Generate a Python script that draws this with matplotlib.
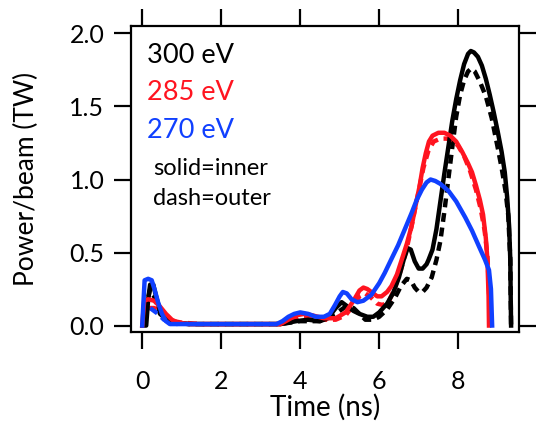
import matplotlib
matplotlib.use("Agg")
import matplotlib.pyplot as plt

plt.rcParams["font.family"] = ["Lato", "DejaVu Sans"]

# time (ns) and power per beam (TW)
t_300_in = [0.0, 0.1, 0.15, 0.2, 0.28, 0.35, 0.45, 0.6, 0.8, 1.2, 3.5, 3.9, 4.2, 4.5, 4.7, 4.9, 5.05, 5.2, 5.35,
            5.5, 5.7, 5.85, 6.0, 6.1, 6.2, 6.35, 6.5, 6.62, 6.72, 6.8, 6.9, 7.0, 7.1, 7.2, 7.25, 7.35, 7.45, 7.55,
            7.65, 7.75, 7.85, 7.95, 8.05, 8.15, 8.25, 8.32, 8.4, 8.5, 8.6, 8.7, 8.8, 8.9, 9.0, 9.1, 9.18, 9.24,
            9.29, 9.32, 9.33, 9.34]
p_300_in = [0.0, 0.0, 0.18, 0.28, 0.28, 0.2, 0.1, 0.04, 0.02, 0.01, 0.01, 0.03, 0.04, 0.03, 0.05, 0.12, 0.16, 0.13, 0.1,
            0.08, 0.06, 0.06, 0.09, 0.12, 0.15, 0.22, 0.33, 0.45, 0.53, 0.52, 0.44, 0.39, 0.39, 0.42, 0.45, 0.52, 0.66, 0.85,
            1.04, 1.22, 1.4, 1.55, 1.68, 1.79, 1.86, 1.88, 1.87, 1.84, 1.78, 1.69, 1.58, 1.46, 1.33, 1.19, 1.05, 0.88,
            0.68, 0.45, 0.2, 0.0]

t_300_out = [0.05, 0.12, 0.2, 0.3, 0.45, 0.7, 1.2, 3.5, 4.0, 4.5, 4.9, 5.15, 5.35, 5.5, 5.65, 5.85, 6.0, 6.2, 6.4,
             6.55, 6.7, 6.8, 6.9, 7.0, 7.1, 7.2, 7.33, 7.45, 7.55, 7.65, 7.75, 7.85, 7.95, 8.05, 8.15, 8.25, 8.33,
             8.42, 8.55, 8.7, 8.85, 9.0, 9.1, 9.2, 9.27, 9.32, 9.33, 9.34]
p_300_out = [0.0, 0.15, 0.25, 0.2, 0.08, 0.02, 0.01, 0.01, 0.03, 0.03, 0.08, 0.13, 0.12, 0.08, 0.04, 0.04, 0.06, 0.11, 0.19,
             0.27, 0.32, 0.31, 0.26, 0.23, 0.23, 0.26, 0.33, 0.45, 0.58, 0.78, 1.0, 1.22, 1.43, 1.58, 1.68, 1.74, 1.76,
             1.74, 1.67, 1.57, 1.42, 1.22, 1.08, 0.92, 0.75, 0.45, 0.2, 0.0]

t_285_in = [0.0, 0.05, 0.15, 0.3, 0.45, 0.6, 0.75, 0.9, 1.2, 3.5, 3.7, 3.9, 4.1, 4.3, 4.6, 4.9, 5.15, 5.35, 5.5,
            5.6, 5.7, 5.8, 5.95, 6.06, 6.2, 6.31, 6.45, 6.57, 6.7, 6.82, 6.92, 7.02, 7.1, 7.18, 7.26, 7.35, 7.5,
            7.65, 7.8, 7.95, 8.1, 8.25, 8.35, 8.45, 8.55, 8.63, 8.7, 8.74, 8.77, 8.78]
p_285_in = [0.0, 0.17, 0.18, 0.17, 0.13, 0.08, 0.04, 0.02, 0.01, 0.01, 0.04, 0.07, 0.08, 0.07, 0.05, 0.05, 0.09, 0.17, 0.24,
            0.26, 0.25, 0.23, 0.2, 0.2, 0.23, 0.27, 0.35, 0.45, 0.56, 0.68, 0.82, 0.95, 1.08, 1.18, 1.26, 1.3, 1.32,
            1.32, 1.3, 1.26, 1.19, 1.11, 1.05, 0.96, 0.86, 0.76, 0.6, 0.45, 0.2, 0.0]

t_285_out = [0.15, 0.3, 0.45, 0.6, 0.8, 1.0, 1.5, 3.5, 3.8, 4.05, 4.3, 4.6, 4.9, 5.15, 5.35, 5.5, 5.65, 5.8, 5.95,
             6.1, 6.25, 6.4, 6.55, 6.7, 6.85, 7.0, 7.12, 7.25, 7.38, 7.55, 7.7, 7.85, 8.0, 8.15, 8.3, 8.45, 8.57,
             8.67, 8.74, 8.78, 8.8]
p_285_out = [0.12, 0.12, 0.1, 0.07, 0.03, 0.02, 0.01, 0.01, 0.03, 0.06, 0.06, 0.04, 0.04, 0.07, 0.14, 0.2, 0.22, 0.19, 0.15,
             0.14, 0.17, 0.26, 0.38, 0.53, 0.72, 0.92, 1.08, 1.2, 1.26, 1.28, 1.28, 1.27, 1.23, 1.16, 1.06, 0.93, 0.8,
             0.65, 0.48, 0.25, 0.0]

t_270_in = [0.0, 0.06, 0.15, 0.24, 0.32, 0.4, 0.5, 0.6, 0.7, 1.0, 3.4, 3.55, 3.7, 3.85, 4.0, 4.2, 4.4, 4.6, 4.75,
            4.88, 5.0, 5.08, 5.18, 5.3, 5.45, 5.6, 5.8, 6.0, 6.14, 6.3, 6.48, 6.65, 6.82, 6.95, 7.08, 7.2, 7.3, 7.42,
            7.55, 7.76, 7.95, 8.18, 8.35, 8.53, 8.68, 8.78, 8.83, 8.86]
p_270_in = [0.0, 0.31, 0.32, 0.31, 0.24, 0.16, 0.08, 0.03, 0.01, 0.01, 0.01, 0.03, 0.06, 0.08, 0.09, 0.08, 0.06, 0.06, 0.08,
            0.14, 0.2, 0.23, 0.22, 0.18, 0.16, 0.17, 0.21, 0.29, 0.36, 0.45, 0.55, 0.66, 0.77, 0.86, 0.93, 0.98, 1.0, 0.99,
            0.97, 0.92, 0.85, 0.74, 0.65, 0.54, 0.45, 0.38, 0.25, 0.0]

t_270_out = [0.2, 0.3, 0.4, 0.55, 0.7, 0.9]
p_270_out = [0.12, 0.1, 0.08, 0.04, 0.02, 0.01]

fig = plt.figure(figsize=(5.36, 4.22), dpi=100)
ax = fig.add_axes([0.244, 0.213, 0.725, 0.725])

black = "#000000"
red = "#ff1420"
blue = "#1040ff"
lw = 3.2
dash = (0, (2.0, 1.3))

ax.plot(t_300_out, p_300_out, color=black, lw=lw, linestyle=dash)
ax.plot(t_285_out, p_285_out, color=red, lw=lw, linestyle=dash)
ax.plot(t_270_out, p_270_out, color=blue, lw=lw, linestyle=dash)
ax.plot(t_300_in, p_300_in, color=black, lw=lw)
ax.plot(t_285_in, p_285_in, color=red, lw=lw)
ax.plot(t_270_in, p_270_in, color=blue, lw=lw)

ax.set_xlim(-0.29, 9.55)
ax.set_ylim(-0.045, 2.05)
ax.set_xticks([0, 2, 4, 6, 8])
ax.set_yticks([0.0, 0.5, 1.0, 1.5, 2.0])
ax.set_yticklabels(["0.0", "0.5", "1.0", "1.5", "2.0"])

ax.tick_params(axis="both", direction="out", length=12, width=1.6,
               labelsize=18, top=True, right=True,
               labeltop=False, labelright=False)
ax.tick_params(axis="x", pad=15)
ax.tick_params(axis="y", pad=7)
for s in ax.spines.values():
    s.set_linewidth(1.6)

ax.set_xlabel("Time (ns)", fontsize=20, labelpad=1)
ax.set_ylabel("Power/beam (TW)", fontsize=19, labelpad=22)

ax.text(0.042, 0.879, "300 eV", color=black, fontsize=19.5, transform=ax.transAxes)
ax.text(0.042, 0.758, "285 eV", color=red, fontsize=19.5, transform=ax.transAxes)
ax.text(0.042, 0.634, "270 eV", color=blue, fontsize=19.5, transform=ax.transAxes)
ax.text(0.057, 0.513, "solid=inner", color=black, fontsize=17, transform=ax.transAxes)
ax.text(0.057, 0.415, "dash=outer", color=black, fontsize=17, transform=ax.transAxes)

fig.savefig("out.png", dpi=100)
